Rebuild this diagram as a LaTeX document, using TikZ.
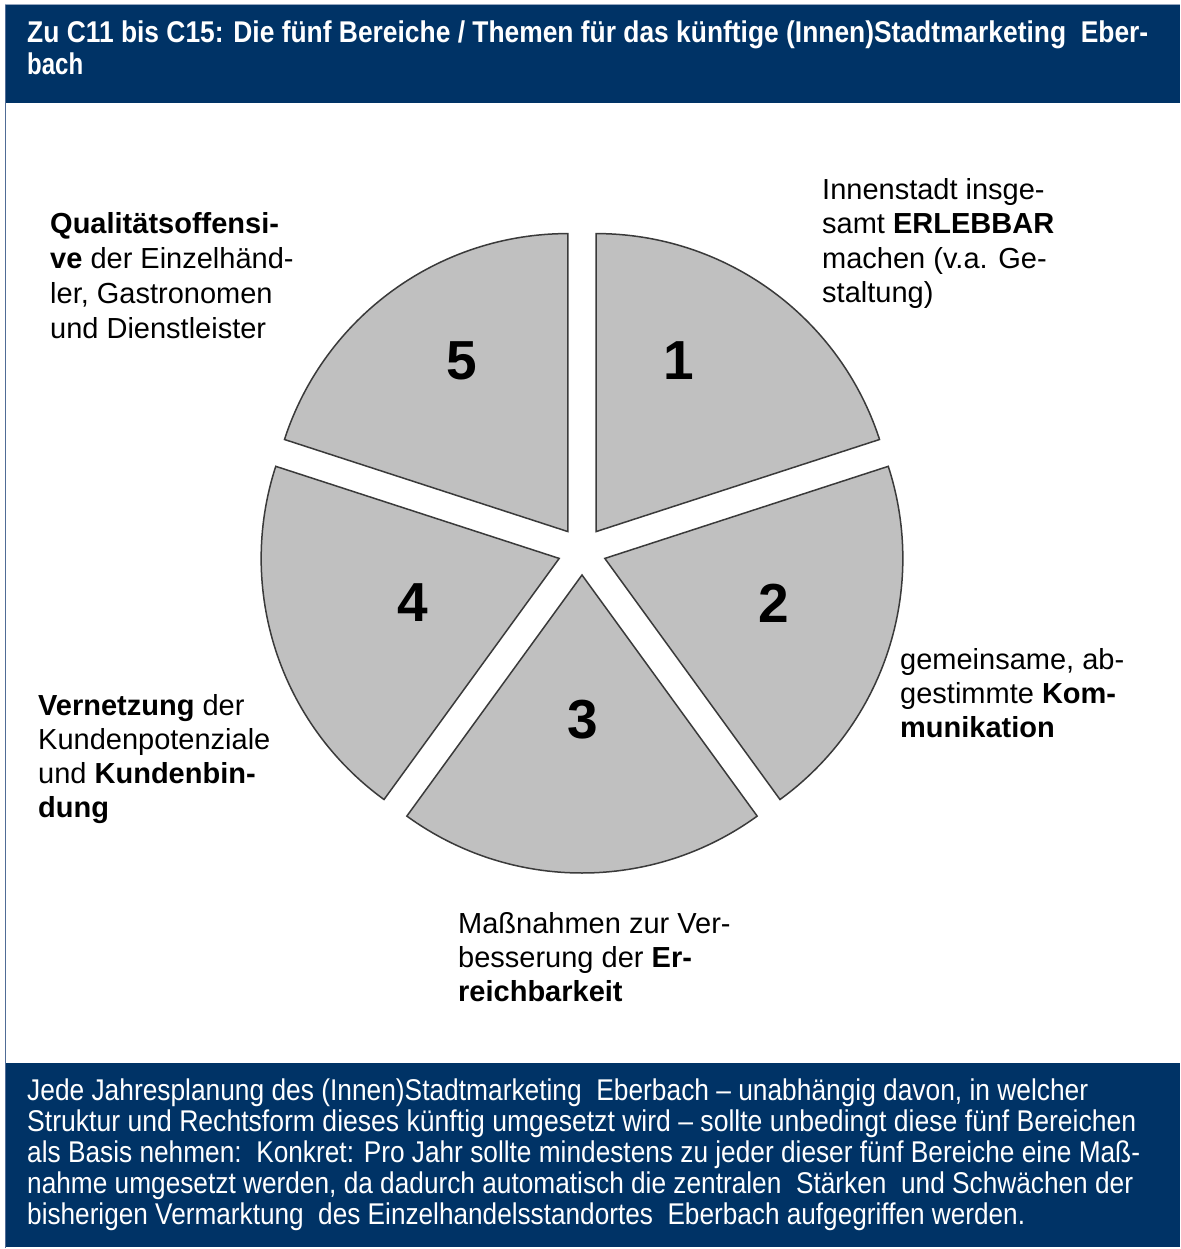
\documentclass[tikz,border=0pt]{standalone}
\usepackage{fontspec}
\usepackage{graphicx}
\setmainfont{Liberation Sans}
\newfontfamily\narrowfont[FakeStretch=0.8]{Liberation Sans}
\usetikzlibrary{calc}
\definecolor{navy}{RGB}{0,51,102}
\definecolor{slicefill}{RGB}{192,192,192}
\definecolor{sliceline}{RGB}{58,58,58}
\definecolor{framecol}{RGB}{80,108,150}
% set a line to an exact width, stretching it horizontally only
\newcommand\fitto[2]{\resizebox{#1pt}{\height}{#2}}

\begin{document}
\begin{tikzpicture}[x=1pt,y=1pt,
  slice/.style={fill=slicefill,draw=sliceline,line width=1.5pt,line join=miter},
  num/.style={inner sep=0pt,font=\fontsize{55}{55}\selectfont\bfseries},
  lbl/.style={anchor=base west,inner sep=0pt,font=\fontsize{29}{34}\selectfont},
  hdr/.style={anchor=base west,inner sep=0pt,text=white,font=\fontsize{30}{32}\narrowfont\bfseries},
  ftr/.style={anchor=base west,inner sep=0pt,text=white,font=\fontsize{30}{31}\narrowfont},
]
\useasboundingbox (0,0) rectangle (1180,-1249);
\fill[white] (0,0) rectangle (1180,-1249);

% title bar and bottom note bar
\fill[navy] (5,-5) rectangle (1180,-103);
\fill[navy] (5,-1063) rectangle (1180,-1247);
\draw[framecol,line width=1.5pt] (5.5,-4) -- (5.5,-1248);
\draw[framecol!60,line width=1pt] (5,-4.5) -- (1180,-4.5);

% title
\node[hdr] (h1) at (27,-43) {\fitto{1121}{Zu C11 bis C15: Die fünf Bereiche / Themen für das künftige (Innen)Stadtmarketing\ \ Eber-}};
\node[hdr] (h2) at (27,-75) {bach};

% exploded pie: five equal sectors, each pushed out along its bisector
\coordinate (c) at (582,-551);
\foreach \a [evaluate=\a as \s using \a-36, evaluate=\a as \e using \a+36] in {54,-18,-90,-162,126} {
  \draw[slice] ($(c)+(\a:24)$) -- ++(\s:298) arc[start angle=\s,end angle=\e,radius=298] -- cycle;
}

% sector numbers
\node[num] (n1) at (679,-361) {1};
\node[num] (n2) at (774,-603) {2};
\node[num] (n3) at (583,-720) {3};
\node[num] (n4) at (413,-603) {4};
\node[num] (n5) at (462,-361) {5};

% theme 1
\node[lbl] (t1a) at (822,-200) {Innenstadt insge-};
\node[lbl] (t1b) at (822,-234) {samt \textbf{ERLEBBAR}};
\node[lbl] (t1c) at (822,-268) {machen (v.a. Ge-};
\node[lbl] (t1d) at (822,-302) {staltung)};

% theme 2
\node[lbl] (t2a) at (900,-669) {gemeinsame, ab-};
\node[lbl] (t2b) at (900,-703) {gestimmte \textbf{Kom-}};
\node[lbl] (t2c) at (900,-737) {\textbf{munikation}};

% theme 3
\node[lbl] (t3a) at (458,-933) {Maßnahmen zur Ver-};
\node[lbl] (t3b) at (458,-967) {besserung der \textbf{Er-}};
\node[lbl] (t3c) at (458,-1001) {\textbf{reichbarkeit}};

% theme 4
\node[lbl] (t4a) at (38,-715) {\textbf{Vernetzung} der};
\node[lbl] (t4b) at (38,-749) {Kundenpotenziale};
\node[lbl] (t4c) at (38,-783) {und \textbf{Kundenbin-}};
\node[lbl] (t4d) at (38,-817) {\textbf{dung}};

% theme 5
\node[lbl] (t5a) at (50,-234) {\textbf{Qualitätsoffensi-}};
\node[lbl] (t5b) at (50,-269) {\textbf{ve} der Einzelhänd-};
\node[lbl] (t5c) at (50,-303) {ler, Gastronomen};
\node[lbl] (t5d) at (50,-338) {und Dienstleister};

% note
\node[ftr] (f1) at (27,-1100) {\fitto{1061}{Jede Jahresplanung des (Innen)Stadtmarketing\ \ Eberbach – unabhängig davon, in welcher}};
\node[ftr] (f2) at (27,-1131) {\fitto{1109}{Struktur und Rechtsform dieses künftig umgesetzt wird – sollte unbedingt diese fünf Bereichen}};
\node[ftr] (f3) at (27,-1162) {\fitto{1113}{als Basis nehmen:\ \ Konkret: Pro Jahr sollte mindestens zu jeder dieser fünf Bereiche eine Maß-}};
\node[ftr] (f4) at (27,-1193) {\fitto{1106}{nahme umgesetzt werden, da dadurch automatisch die zentralen\ \ Stärken\ \ und Schwächen der}};
\node[ftr] (f5) at (27,-1224) {\fitto{998}{bisherigen Vermarktung\ \ des Einzelhandelsstandortes\ \ Eberbach aufgegriffen werden.}};
\end{tikzpicture}
\end{document}
